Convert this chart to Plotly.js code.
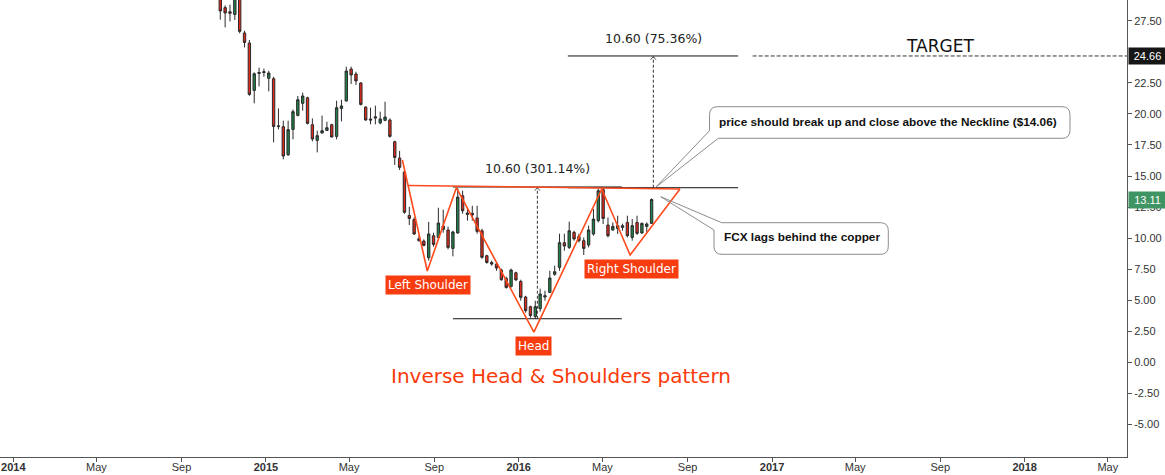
<!DOCTYPE html>
<html>
<head>
<meta charset="utf-8">
<script src="https://cdn.plot.ly/plotly-3.0.1.min.js"></script>
<style>
  html, body { margin: 0; padding: 0; background: #ffffff; }
  #chart { width: 1165px; height: 475px; }
</style>
</head>
<body>
<div id="chart"></div>
<script>
// ---------- DATA (weekly FCX candles) ----------
const dates = [
  '2014-10-27','2014-11-03','2014-11-10','2014-11-17','2014-11-24','2014-12-01','2014-12-08','2014-12-15','2014-12-22','2014-12-29',
  '2015-01-05','2015-01-12','2015-01-19','2015-01-26','2015-02-02','2015-02-09','2015-02-16','2015-02-23','2015-03-02','2015-03-09',
  '2015-03-16','2015-03-23','2015-03-30','2015-04-06','2015-04-13','2015-04-20','2015-04-27','2015-05-04','2015-05-11','2015-05-18',
  '2015-05-25','2015-06-01','2015-06-08','2015-06-15','2015-06-22','2015-06-29','2015-07-06','2015-07-13','2015-07-20','2015-07-27',
  '2015-08-03','2015-08-10','2015-08-17','2015-08-24','2015-08-31','2015-09-07','2015-09-14','2015-09-21','2015-09-28','2015-10-05',
  '2015-10-12','2015-10-19','2015-10-26','2015-11-02','2015-11-09','2015-11-16','2015-11-23','2015-11-30','2015-12-07','2015-12-14',
  '2015-12-21','2015-12-28','2016-01-04','2016-01-11','2016-01-18','2016-01-25','2016-02-01','2016-02-08','2016-02-15','2016-02-22',
  '2016-02-29','2016-03-07','2016-03-14','2016-03-21','2016-03-28','2016-04-04','2016-04-11','2016-04-18','2016-04-25','2016-05-02',
  '2016-05-09','2016-05-16','2016-05-23','2016-05-30','2016-06-06','2016-06-13','2016-06-20','2016-06-27','2016-07-04','2016-07-11'
];
const openP = [
  29.60,28.55,28.22,28.00,29.50,26.51,25.70,21.89,23.25,23.40,
  22.86,22.83,18.98,18.97,16.72,18.75,19.88,20.85,21.30,19.13,
  17.87,18.46,18.67,19.13,18.19,20.44,21.04,23.61,23.21,22.49,
  20.55,19.59,19.77,19.27,19.48,19.51,17.76,16.45,15.33,11.83,
  11.49, 9.96, 9.77, 8.43,10.20,10.06,10.98,10.66, 9.18,10.42,
  13.42,12.03,12.00,11.63,10.60, 8.59, 8.05, 7.92, 7.44, 6.77,
   6.12, 7.22, 6.52, 5.27, 4.49, 3.71, 4.33, 5.27, 5.64, 7.09,
   7.65, 9.64, 9.26,10.47,10.14, 9.80, 9.45,10.34,11.41,13.90,
  11.06,10.66,10.79,10.87,11.27,10.06,11.27,10.42,10.95,11.19
];
const highP = [
  30.00,28.73,28.79,29.90,29.80,26.69,25.95,23.34,23.72,23.64,
  23.47,22.99,20.44,19.45,19.45,20.36,21.44,21.71,21.38,19.64,
  18.65,19.86,19.37,19.21,21.06,21.14,23.80,23.80,23.39,22.55,
  20.60,20.50,20.66,20.18,20.98,19.64,17.84,17.02,15.40,12.53,
  11.67,10.20, 9.90,11.31,10.44,12.45,12.30,10.93,10.60,14.02,
  13.82,12.48,12.61,12.61,10.76, 8.67, 8.19, 8.03, 7.55, 6.90,
   7.55, 7.30, 6.66, 5.37, 4.57, 4.97, 5.94, 5.78, 7.38, 7.79,
  10.36,10.36,11.33,10.60,10.36,10.06,11.01,12.35,13.96,14.12,
  11.67,11.27,11.81,11.17,11.81,11.54,11.81,11.27,11.27,13.20
];
const lowP = [
  27.58,26.96,27.44,27.55,26.48,25.35,21.46,20.85,22.21,22.99,
  21.81,17.71,18.75,16.34,16.61,17.95,19.80,20.26,19.15,17.79,
  16.90,18.43,18.62,18.11,17.95,19.40,21.00,22.41,22.32,20.68,
  19.45,19.16,19.16,19.16,19.41,18.09,15.89,15.49,11.97,11.06,
  10.26, 9.73, 9.35, 8.20, 9.32, 9.96,10.44, 9.10, 8.54,10.36,
  11.97,11.41,11.41,10.36, 8.35, 7.95, 7.79, 7.38, 6.58, 5.94,
   6.02, 6.58, 4.97, 4.01, 3.60, 3.52, 4.09, 4.97, 5.62, 6.98,
   7.38, 8.99, 9.13, 9.80, 9.66, 8.65, 9.26,10.20,11.27,11.14,
  10.06,10.60,10.34,10.60,10.06, 9.80,10.26,10.34,10.44,11.17
];
const closeP = [
  28.28,28.12,28.09,29.50,26.64,25.75,21.57,23.23,23.33,23.33,
  23.29,18.99,19.03,16.61,18.73,20.18,21.14,21.44,19.24,17.98,
  18.25,18.65,18.89,18.14,20.50,20.64,23.45,23.13,22.65,20.76,
  19.51,19.51,19.67,19.59,19.75,18.19,16.50,15.70,12.08,11.59,
  10.34, 9.80, 9.42,10.34, 9.50,11.22,10.71, 9.26,10.50,13.31,
  12.21,11.91,11.87,10.55, 8.46, 8.05, 7.92, 7.60, 6.66, 6.04,
   7.44, 6.64, 5.24, 4.17, 3.77, 4.49, 5.51, 5.37, 6.80, 7.30,
   9.64, 9.37,10.60, 9.94, 9.80, 9.18,10.66,11.54,13.82,11.59,
  10.20,10.95,11.01,11.00,10.20,11.01,10.39,11.19,11.14,13.11
];

// Axis ticks
const xTickVals = ['2014-01-01','2014-05-01','2014-09-01','2015-01-01','2015-05-01','2015-09-01',
                   '2016-01-01','2016-05-01','2016-09-01','2017-01-01','2017-05-01','2017-09-01',
                   '2018-01-01','2018-05-01'];
const xTickText = ['<b>2014</b>','May','Sep','<b>2015</b>','May','Sep','<b>2016</b>','May','Sep',
                   '<b>2017</b>','May','Sep','<b>2018</b>','May'];
const yTickVals = [-5,-2.5,0,2.5,5,7.5,10,12.5,15,17.5,20,22.5,27.5];

// Drawing anchors (author's annotations on the chart)
const patternX = ['2015-07-17','2015-08-22','2015-10-03','2016-01-23','2016-04-30','2016-06-10','2016-08-21'];
const patternY = [16.29, 7.36, 14.06, 2.45, 13.96, 8.65, 13.96];
const necklineX = ['2015-07-25','2016-08-21'];
const necklineY = [14.24, 13.96];
const measure1 = {x0:'2015-09-28', x1:'2016-05-29', xm:'2016-01-28', lo:3.52, hi:14.12, label:'10.60 (301.14%)'};
const measure2 = {x0:'2016-03-12', x1:'2016-11-13', xm:'2016-07-13 12:00', lo:14.06, hi:24.66, label:'10.60 (75.36%)'};
const targetStart = '2016-12-04';
const targetPrice = 24.66;
const lastPrice = 13.11;

const X_RANGE = ['2013-12-12 19:00', '2018-05-28 17:00'];
const Y_RANGE = [-7.603, 29.163];

// ---------- helpers ----------
function addDays(s, n) {
  const iso = s.length === 10 ? s + 'T00:00:00Z' : s.replace(' ', 'T') + ':00Z';
  const d = new Date(Date.parse(iso) + n * 864e5);
  return d.toISOString().slice(0, 16).replace('T', ' ');
}
const PW = 1127, PH = 457;
function P(px, py) { return (px / PW).toFixed(5) + ',' + ((PH - py) / PH).toFixed(5); }

const RED = '#ff4a1c';
const traces = [];

traces.push({
  type: 'candlestick', x: dates, open: openP, high: highP, low: lowP, close: closeP,
  increasing: {line: {color: '#2b2b2b', width: 1}, fillcolor: '#20804a'},
  decreasing: {line: {color: '#2b2b2b', width: 1}, fillcolor: '#e3281c'},
  whiskerwidth: 0, hoverinfo: 'skip', showlegend: false
});

function seg(xs, ys, color, width, dash) {
  traces.push({type: 'scatter', mode: 'lines', x: xs, y: ys,
    line: {color: color, width: width, dash: dash || 'solid'}, hoverinfo: 'skip', showlegend: false, cliponaxis: false});
}

// measuring tools
[measure1, measure2].forEach(m => {
  seg([m.x0, m.x1], [m.lo, m.lo], '#111', 1);
  seg([m.x0, m.x1], [m.hi, m.hi], '#111', 1);
  seg([m.xm, m.xm], [m.lo, m.hi], '#333', 1, '3px,2px');
  seg([addDays(m.xm, -3.8), m.xm, addDays(m.xm, 3.8)], [m.hi - 0.3, m.hi - 0.05, m.hi - 0.3], '#555', 1);
});
// target line
seg([targetStart, X_RANGE[1]], [targetPrice, targetPrice], '#333', 1, '4px,2px');
// pattern (red)
seg(necklineX, necklineY, RED, 1.6);
seg(patternX, patternY, RED, 1.6);

const callout1 = 'M' + P(655.5,187.5) + ' L' + P(709.5,130.7) + ' L' + P(709.5,114.7) +
  ' Q' + P(709.5,106.7) + ' ' + P(717.5,106.7) + ' L' + P(1062,106.7) +
  ' Q' + P(1070,106.7) + ' ' + P(1070,114.7) + ' L' + P(1070,130.3) +
  ' Q' + P(1070,138.3) + ' ' + P(1062,138.3) + ' L' + P(718.3,138.3) + ' Z';
const callout2 = 'M' + P(660.7,196.7) + ' L' + P(721.7,222.7) + ' L' + P(880.3,222.7) +
  ' Q' + P(888.3,222.7) + ' ' + P(888.3,230.7) + ' L' + P(888.3,246.3) +
  ' Q' + P(888.3,254.3) + ' ' + P(880.3,254.3) + ' L' + P(722,254.3) +
  ' Q' + P(714,254.3) + ' ' + P(714,246.3) + ' L' + P(714,230) + ' Z';

const shapes = [
  {type: 'path', xref: 'paper', yref: 'paper', path: callout1, line: {color: '#8c8c8c', width: 1}, fillcolor: 'rgba(255,255,255,0)'},
  {type: 'path', xref: 'paper', yref: 'paper', path: callout2, line: {color: '#8c8c8c', width: 1}, fillcolor: 'rgba(255,255,255,0)'}
];

const TV = 'DejaVu Sans, Verdana, sans-serif';
const AR = 'Liberation Sans, Arial, sans-serif';
const labelBox = (x, y, t) => ({x: x, y: y, xref: 'x', yref: 'y', xanchor: 'center', yanchor: 'middle', text: t, showarrow: false,
  bgcolor: '#f73c10', borderpad: 2, font: {family: TV, size: 12, color: '#ffffff'}});

const annotations = [
  {x: measure1.xm, y: measure1.hi, xref: 'x', yref: 'y', xanchor: 'center', yanchor: 'middle', yshift: 18, text: measure1.label, showarrow: false,
   font: {family: TV, size: 12.5, color: '#222'}},
  {x: measure2.xm, y: measure2.hi, xref: 'x', yref: 'y', xanchor: 'center', yanchor: 'middle', yshift: 17, text: measure2.label, showarrow: false,
   font: {family: TV, size: 12.5, color: '#222'}},
  {x: '2017-08-31', y: targetPrice, xref: 'x', yref: 'y', xanchor: 'center', yanchor: 'middle', yshift: 10, text: 'TARGET', showarrow: false,
   font: {family: TV, size: 17, color: '#111'}},
  labelBox('2015-08-23', 6.23, 'Left Shoulder'),
  labelBox('2016-01-23', 1.33, 'Head'),
  labelBox('2016-06-12', 7.52, 'Right Shoulder'),
  {x: 561 / PW, y: (PH - 376) / PH, xref: 'paper', yref: 'paper', xanchor: 'center', yanchor: 'middle',
   text: 'Inverse Head &amp; Shoulders pattern',
   showarrow: false, font: {family: TV, size: 20, color: '#fa3a0a'}},
  {x: 718.3 / PW, y: (PH - 121.7) / PH, xref: 'paper', yref: 'paper', xanchor: 'left', yanchor: 'middle',
   text: '<b>price should break up and close above the Neckline ($14.06)</b>', showarrow: false, borderpad: 0,
   font: {family: AR, size: 11.8, color: '#111'}},
  {x: 723.3 / PW, y: (PH - 237.3) / PH, xref: 'paper', yref: 'paper', xanchor: 'left', yanchor: 'middle',
   text: '<b>FCX lags behind the copper</b>', showarrow: false, borderpad: 0,
   font: {family: AR, size: 11.8, color: '#111'}},
  {x: 1, y: targetPrice, xref: 'paper', yref: 'y', xanchor: 'left', yanchor: 'middle', xshift: 1,
   text: targetPrice.toFixed(2), showarrow: false, bgcolor: '#161616', borderpad: 2, width: 33,
   font: {family: AR, size: 11, color: '#ffffff'}},
  {x: 1, y: lastPrice, xref: 'paper', yref: 'y', xanchor: 'left', yanchor: 'middle', xshift: 1,
   text: lastPrice.toFixed(2), showarrow: false, bgcolor: '#3f9463', borderpad: 2, width: 33,
   font: {family: AR, size: 11, color: '#ffffff'}}
];

const layout = {
  width: 1165, height: 475,
  margin: {l: 0, r: 38, t: 0, b: 18},
  paper_bgcolor: '#ffffff', plot_bgcolor: '#ffffff',
  showlegend: false, hovermode: false,
  xaxis: {
    type: 'date', range: X_RANGE, tickvals: xTickVals, ticktext: xTickText,
    ticks: 'outside', ticklen: 4, tickcolor: '#555', showline: true, linecolor: '#555', linewidth: 1,
    ticklabelstandoff: -4,
    showgrid: false, zeroline: false, rangeslider: {visible: false}, fixedrange: true,
    tickfont: {family: AR, size: 11, color: '#333'}
  },
  yaxis: {
    side: 'right', range: Y_RANGE, tickvals: yTickVals, ticktext: yTickVals.map(v => v.toFixed(2)),
    ticks: 'outside', ticklen: 4, tickcolor: '#555', showline: true, linecolor: '#555', linewidth: 1,
    showgrid: false, zeroline: false, fixedrange: true,
    tickfont: {family: AR, size: 11, color: '#333'}
  },
  shapes: shapes,
  annotations: annotations
};

Plotly.newPlot('chart', traces, layout, {staticPlot: true, displayModeBar: false});
</script>
</body>
</html>
